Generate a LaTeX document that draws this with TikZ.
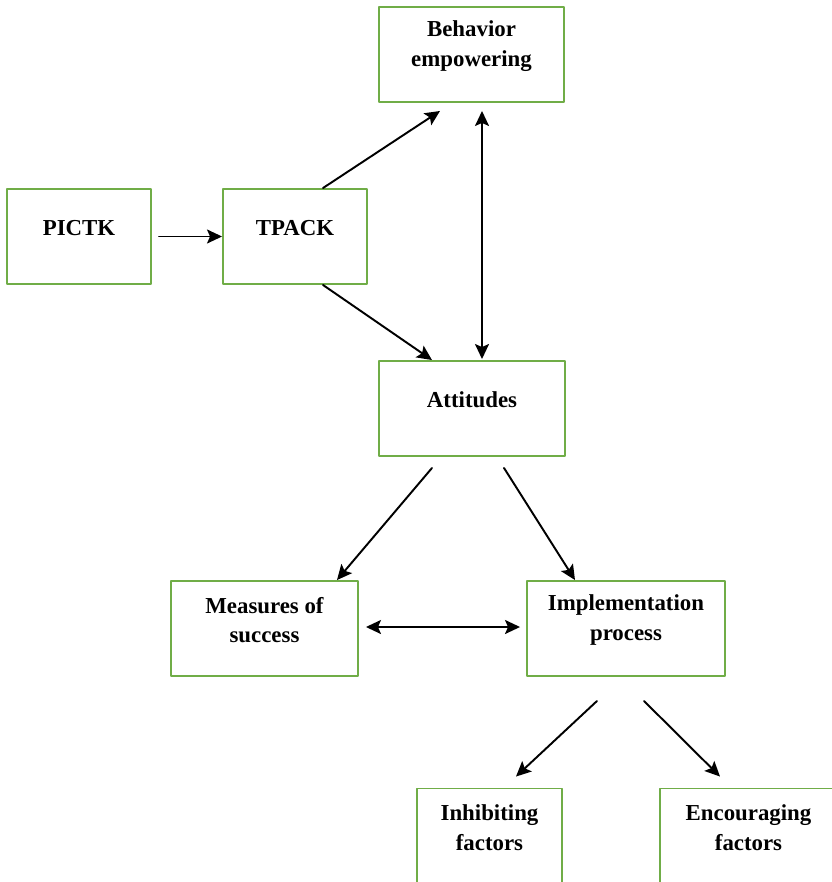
\documentclass[tikz,border=0pt]{standalone}
\usepackage{fontspec}
\setmainfont{Liberation Serif}
\usetikzlibrary{arrows.meta}
\definecolor{xanhla}{HTML}{70AD47}
\begin{document}
\begin{tikzpicture}[line cap=round,line join=round,>={Stealth[length=3mm,width=2.8mm,inset=.6mm]},
    font=\fontsize{13}{16.8}\selectfont\bfseries,
    hop/.style={draw=xanhla,line width=1.1pt,minimum height=1.9cm,minimum width=#1},
    chu/.style={align=center,yshift=.17cm},
    mui/.style={line width=1.1pt}]
    \useasboundingbox (0,0) rectangle (16.64,-17.64);
    \node[hop=3.7cm,label={[chu]center:Behavior\\empowering}] (beh) at (9.43,-1.09) {};
    \node[hop=2.88cm,label={[chu]center:PICTK}] (pictk) at (1.58,-4.73) {};
    \node[hop=2.88cm,label={[chu]center:TPACK}] (tpack) at (5.9,-4.73) {};
    \node[hop=3.72cm,label={[chu]center:Attitudes}] (att) at (9.44,-8.17) {};
    \node[hop=3.74cm,label={[chu]center:Measures of\\success}] (meas) at (5.29,-12.57) {};
    \node[hop=3.96cm,label={[chu]center:Implementation\\process}] (impl) at (12.52,-12.57) {};
    \node[hop=2.9cm,label={[chu]center:Inhibiting\\factors}] (inh) at (9.79,-16.72) {};
    \node[hop=3.54cm,label={[chu]center:Encouraging\\factors}] (enc) at (14.97,-16.72) {};
    % cac mui ten
    \draw[mui,->,shorten <=.14cm] (pictk.east) -- (tpack.west);
    \draw[mui,->] ([xshift=.56cm]tpack.north) -- ([xshift=-.63cm,yshift=-.16cm]beh.south);
    \draw[mui,->] ([xshift=.56cm]tpack.south) -- ([xshift=-.8cm]att.north);
    \draw[mui,<->] ([xshift=.21cm,yshift=-.16cm]beh.south) -- ([xshift=.2cm,yshift=.02cm]att.north);
    \draw[mui,->] ([xshift=-.8cm,yshift=-.22cm]att.south) -- ([xshift=1.45cm]meas.north);
    \draw[mui,->] ([xshift=.64cm,yshift=-.22cm]att.south) -- ([xshift=-1.02cm]impl.north);
    \draw[mui,<->,shorten <=.14cm,shorten >=.12cm] ([yshift=.03cm]meas.east) -- ([yshift=.03cm]impl.west);
    \draw[mui,->] ([xshift=-.58cm,yshift=-.48cm]impl.south) -- ([xshift=.53cm,yshift=.22cm]inh.north);
    \draw[mui,->] ([xshift=.36cm,yshift=-.48cm]impl.south) -- ([xshift=-.57cm,yshift=.22cm]enc.north);
\end{tikzpicture}
\end{document}
